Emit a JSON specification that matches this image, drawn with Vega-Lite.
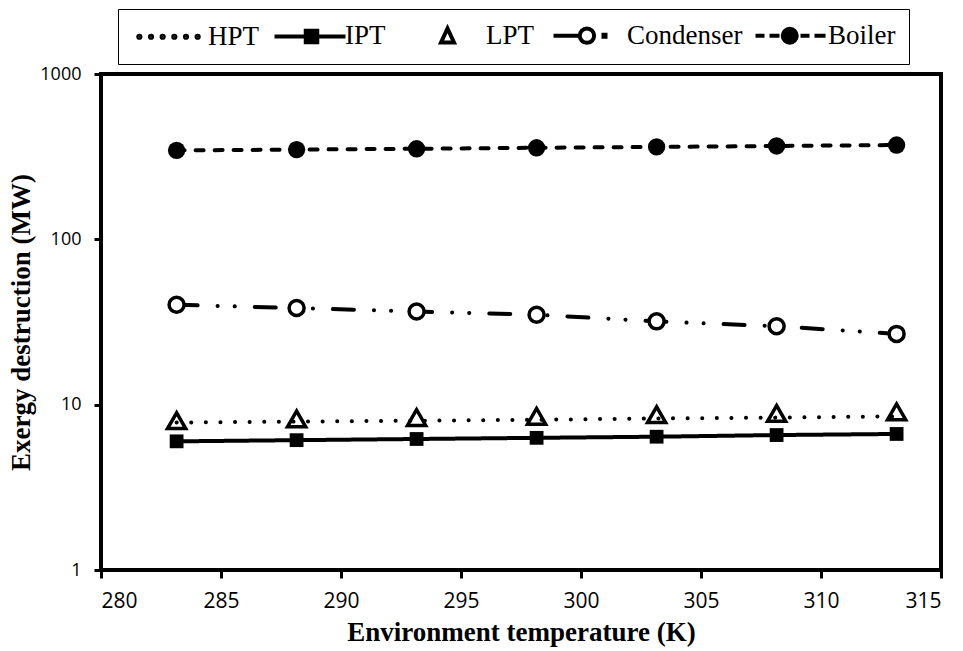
{
  "$schema": "https://vega.github.io/schema/vega-lite/v6.json",
  "width": 840,
  "height": 496,
  "autosize": {"type": "none"},
  "padding": {"left": 101, "top": 74, "right": 22, "bottom": 81},
  "background": "white",
  "config": {
    "view": {"stroke": "black", "strokeWidth": 4},
    "axis": {"grid": false, "domain": false, "tickColor": "black", "tickWidth": 3, "tickSize": 8, "labelColor": "black", "titleColor": "black", "labelFont": "Open Sans", "titleFont": "Liberation Serif", "titleFontWeight": "bold", "titleFontSize": 27}
  },
  "data": {"values": [
    {"T": 283.15, "series": "HPT", "value": 7.8},
    {"T": 288.15, "series": "HPT", "value": 7.9},
    {"T": 293.15, "series": "HPT", "value": 8.0},
    {"T": 298.15, "series": "HPT", "value": 8.1},
    {"T": 303.15, "series": "HPT", "value": 8.25},
    {"T": 308.15, "series": "HPT", "value": 8.35},
    {"T": 313.15, "series": "HPT", "value": 8.5},
    {"T": 283.15, "series": "IPT", "value": 6.0},
    {"T": 288.15, "series": "IPT", "value": 6.1},
    {"T": 293.15, "series": "IPT", "value": 6.2},
    {"T": 298.15, "series": "IPT", "value": 6.3},
    {"T": 303.15, "series": "IPT", "value": 6.4},
    {"T": 308.15, "series": "IPT", "value": 6.55},
    {"T": 313.15, "series": "IPT", "value": 6.65},
    {"T": 283.15, "series": "LPT", "value": 8.0},
    {"T": 288.15, "series": "LPT", "value": 8.2},
    {"T": 293.15, "series": "LPT", "value": 8.35},
    {"T": 298.15, "series": "LPT", "value": 8.5},
    {"T": 303.15, "series": "LPT", "value": 8.7},
    {"T": 308.15, "series": "LPT", "value": 8.85},
    {"T": 313.15, "series": "LPT", "value": 9.05},
    {"T": 283.15, "series": "Condenser", "value": 40.2},
    {"T": 288.15, "series": "Condenser", "value": 38.4},
    {"T": 293.15, "series": "Condenser", "value": 36.6},
    {"T": 298.15, "series": "Condenser", "value": 35.0},
    {"T": 303.15, "series": "Condenser", "value": 31.9},
    {"T": 308.15, "series": "Condenser", "value": 29.8},
    {"T": 313.15, "series": "Condenser", "value": 26.8},
    {"T": 283.15, "series": "Boiler", "value": 345},
    {"T": 288.15, "series": "Boiler", "value": 349},
    {"T": 293.15, "series": "Boiler", "value": 353},
    {"T": 298.15, "series": "Boiler", "value": 358},
    {"T": 303.15, "series": "Boiler", "value": 362},
    {"T": 308.15, "series": "Boiler", "value": 367},
    {"T": 313.15, "series": "Boiler", "value": 372}
  ]},
  "encoding": {
    "x": {"field": "T", "type": "quantitative", "scale": {"domain": [280, 315], "nice": false, "zero": false},
      "axis": {"values": [280, 285, 290, 295, 300, 305, 310, 315], "format": "d", "labelFontSize": 21, "labelPadding": 12, "title": "Environment temperature (K)", "titlePadding": 8}},
    "y": {"field": "value", "type": "quantitative", "scale": {"type": "log", "domain": [1, 1000], "nice": false},
      "axis": {"values": [1, 10, 100, 1000], "format": "d", "labelFontSize": 18, "labelPadding": 13, "tickSize": 7, "title": "Exergy destruction (MW)", "titlePadding": 4}}
  },
  "layer": [
    {
      "transform": [{"filter": "datum.series !== 'LPT'"}],
      "mark": {"type": "line", "color": "black", "strokeWidth": 4, "strokeCap": "round"},
      "encoding": {
        "detail": {"field": "series"},
        "strokeDash": {"field": "series", "type": "nominal", "legend": null,
          "scale": {"domain": ["HPT", "IPT", "Condenser", "Boiler"], "range": [[0.1, 14.5], [1, 0], [21, 20, 0.1, 17, 0.1, 20], [8, 11]]}},
        "strokeWidth": {"field": "series", "type": "nominal", "legend": null,
          "scale": {"domain": ["HPT", "IPT", "Condenser", "Boiler"], "range": [5.5, 4, 4, 4]}}
      }
    },
    {
      "transform": [{"filter": "datum.series === 'LPT'"}],
      "mark": {"type": "point", "shape": "triangle-up", "filled": false, "stroke": "black", "strokeWidth": 3.5, "size": 330, "opacity": 1}
    },
    {
      "transform": [{"filter": "datum.series === 'IPT'"}],
      "mark": {"type": "point", "shape": "square", "filled": true, "color": "black", "size": 190, "opacity": 1}
    },
    {
      "transform": [{"filter": "datum.series === 'Condenser'"}],
      "mark": {"type": "point", "shape": "circle", "filled": true, "fill": "white", "stroke": "black", "strokeWidth": 3.5, "size": 225, "opacity": 1}
    },
    {
      "transform": [{"filter": "datum.series === 'Boiler'"}],
      "mark": {"type": "point", "shape": "circle", "filled": true, "color": "black", "size": 300, "opacity": 1}
    },
    {
      "mark": {"type": "point", "filled": true, "opacity": 0, "size": 400},
      "encoding": {
        "shape": {"field": "series", "type": "nominal",
          "scale": {"domain": ["HPT", "IPT", "LPT", "Condenser", "Boiler"],
            "range": [
              "M-3.7,0 M-3.325,0 a0.11,0.11 0 1,0 0.22,0 a0.11,0.11 0 1,0 -0.22,0 M-2.159,0 a0.11,0.11 0 1,0 0.22,0 a0.11,0.11 0 1,0 -0.22,0 M-0.993,0 a0.11,0.11 0 1,0 0.22,0 a0.11,0.11 0 1,0 -0.22,0 M0.173,0 a0.11,0.11 0 1,0 0.22,0 a0.11,0.11 0 1,0 -0.22,0 M1.339,0 a0.11,0.11 0 1,0 0.22,0 a0.11,0.11 0 1,0 -0.22,0 M2.505,0 a0.11,0.11 0 1,0 0.22,0 a0.11,0.11 0 1,0 -0.22,0 M3.7,0",
              "M-3.7,0 M-3.4,0 H3.7 M-0.275,-0.575 H0.875 V0.575 H-0.275 Z",
              "M-5.2,0 M-0.85,0.65 L-0.2,-0.75 L0.45,0.65 Z M3.7,0",
              "M-4.4,0 M-3.7,0 H-1.075 M-1.075,0 a0.72,0.72 0 1,0 1.44,0 a0.72,0.72 0 1,0 -1.44,0 M1.3,-0.1 H1.5 V0.1 H1.3 Z M3.7,0",
              "M-3.7,0 M-3.6,0 H-2.7 M-2.2,0 H-1.2 M-0.875,0 a0.7,0.7 0 1,0 1.4,0 a0.7,0.7 0 1,0 -1.4,0 M0.9,0 H1.8 M2.3,0 H3.4 M3.7,0"
            ]},
          "legend": {
            "title": null, "orient": "none", "legendX": 17, "legendY": -65, "direction": "horizontal",
            "symbolSize": 400, "symbolOffset": 27, "labelOffset": 23, "symbolOpacity": 1, "symbolStrokeWidth": 4,
            "labelFont": "Liberation Serif", "labelFontSize": 27, "labelColor": "black",
            "columnPadding": 3, "padding": 13, "strokeColor": "black",
            "encode": {
              "legend": {"update": {"strokeWidth": {"value": 2}}}
            }
          }},
        "fill": {"field": "series", "type": "nominal",
          "scale": {"domain": ["HPT", "IPT", "LPT", "Condenser", "Boiler"], "range": ["black", "black", "white", "white", "black"]}},
        "stroke": {"field": "series", "type": "nominal",
          "scale": {"domain": ["HPT", "IPT", "LPT", "Condenser", "Boiler"], "range": ["black", "black", "black", "black", "black"]}},
        "strokeWidth": {"field": "series", "type": "nominal",
          "scale": {"domain": ["HPT", "IPT", "LPT", "Condenser", "Boiler"], "range": [4, 4, 4, 4, 4]}}
      }
    }
  ],
  "resolve": {"scale": {"shape": "independent", "fill": "independent", "stroke": "independent", "strokeWidth": "independent", "strokeDash": "independent"}}
}
